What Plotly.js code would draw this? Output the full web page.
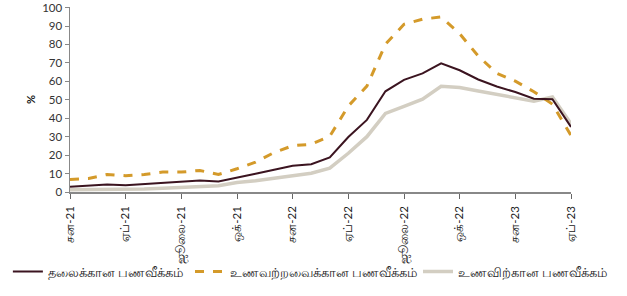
<!DOCTYPE html>
<html>
<head>
<meta charset="utf-8">
<script src="https://cdn.plot.ly/plotly-3.0.1.min.js"></script>
<style>html,body{margin:0;padding:0;background:#fff;}#chart{width:627px;height:296px;}</style>
</head>
<body>
<div id="chart"></div>
<script>
const months = ["சன-21","பெப்-21","மார்-21","ஏப்-21","மே-21","ஜூன்-21","ஜூலை-21","ஓக-21","செப்-21","ஒக்-21","நவ-21","டிச-21",
"சன-22","பெப்-22","மார்-22","ஏப்-22","மே-22","ஜூன்-22","ஜூலை-22","ஓக-22","செப்-22","ஒக்-22","நவ-22","டிச-22",
"சன-23","பெப்-23","மார்-23","ஏப்-23"];
const tickLabels = ["சன-21","ஏப்-21","ஜூலை-21","ஒக்-21","சன-22","ஏப்-22","ஜூலை-22","ஒக்-22","சன-23","ஏப்-23"];
const tickIdx = [0,3,6,9,12,15,18,21,24,27];
const headline = [2.8,3.3,4.1,3.6,4.3,5.0,5.7,6.2,5.7,7.6,9.9,12.1,14.2,15.1,18.7,29.8,39.1,54.6,60.8,64.3,69.8,66.0,61.0,57.2,54.2,50.6,50.3,35.3];
const food = [6.8,7.3,9.5,8.8,9.5,10.8,10.8,11.7,9.5,12.6,16.2,21.4,25.1,25.9,30.2,46.6,57.4,80.1,90.9,93.7,94.9,85.8,73.7,64.4,60.1,54.4,47.6,30.6];
const nonfood = [1.2,1.2,1.2,1.2,1.6,2.0,2.5,3.1,3.4,5.2,6.1,7.5,8.8,10.2,12.9,21.0,30.0,42.6,46.4,50.3,57.3,56.6,54.8,53.0,51.0,49.2,51.5,37.0];
const names = ["தலைக்கான பணவீக்கம்","உணவற்றவைக்கான பணவீக்கம்","உணவிற்கான பணவீக்கம்"];

const xs = months.map((_, i) => i);
const traces = [
  {x: xs, y: headline, name: names[0], type: "scatter", mode: "lines", legend: "legend",
   line: {color: "#3b1420", width: 2}},
  {x: xs, y: food, name: names[1], type: "scatter", mode: "lines", legend: "legend2",
   line: {color: "#d49a2a", width: 3, dash: "dash"}},
  {x: xs, y: nonfood, name: names[2], type: "scatter", mode: "lines", legend: "legend3",
   line: {color: "#d3cec2", width: 3.5}}
];
// draw headline on top
const ordered = [traces[2], traces[1], traces[0]];
const legendBase = {orientation: "h", xanchor: "left", y: -0.43, yanchor: "middle",
  bgcolor: "rgba(0,0,0,0)", font: {size: 13, color: "#222"}, itemwidth: 30};
const layout = {
  width: 627, height: 296,
  margin: {l: 70, r: 56, t: 7, b: 104, autoexpand: false},
  paper_bgcolor: "#fff", plot_bgcolor: "#fff",
  font: {family: "Lato, 'Noto Sans', sans-serif", size: 11, color: "#333"},
  showlegend: true,
  legend: Object.assign({}, legendBase, {x: -0.124}),
  legend2: Object.assign({}, legendBase, {x: 0.2395}),
  legend3: Object.assign({}, legendBase, {x: 0.6946}),
  xaxis: {
    range: [0, 27], tickmode: "array", tickvals: tickIdx, ticktext: tickLabels,
    tickangle: -90, ticks: "outside", ticklen: 5, tickcolor: "#666",
    showline: true, linecolor: "#888", linewidth: 1.5, showgrid: false, zeroline: false,
    tickfont: {size: 11.5, color: "#222"}, automargin: false, ticklabelstandoff: 3
  },
  yaxis: {
    range: [0, 100.3], tickmode: "array", tickvals: [0,10,20,30,40,50,60,70,80,90,100],
    ticks: "outside", ticklen: 4, tickcolor: "#888",
    showline: true, linecolor: "#888", linewidth: 1.5, showgrid: false, zeroline: false,
    tickfont: {size: 11.5, color: "#333"}, automargin: false,
    title: {text: "<b>%</b>", font: {size: 11, color: "#222"}, standoff: 4}
  }
};
Plotly.newPlot("chart", ordered, layout, {staticPlot: true, displayModeBar: false});
</script>
</body>
</html>
